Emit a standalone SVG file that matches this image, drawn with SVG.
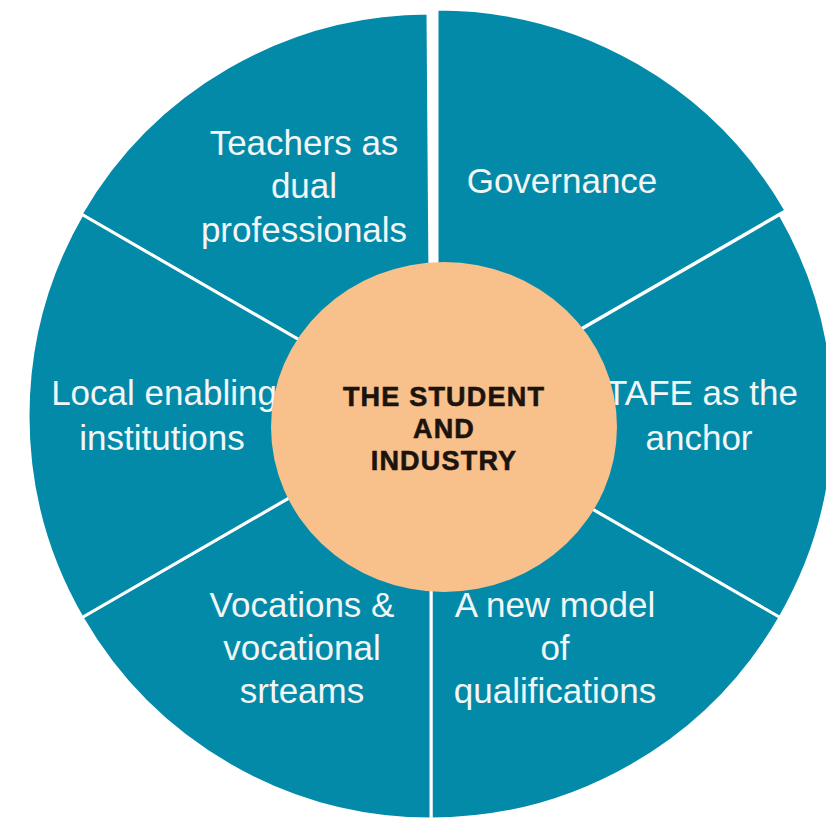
<svg xmlns="http://www.w3.org/2000/svg" width="826" height="820" viewBox="0 0 826 820">
<style>
.w{fill:#038aa9;stroke:#ffffff;stroke-width:3;stroke-linejoin:miter}
.t{font-family:"Liberation Sans",Arial,sans-serif;font-size:35px;fill:#f2f6f6;text-anchor:middle}
.c{font-family:"Liberation Sans",Arial,sans-serif;font-size:27px;font-weight:bold;fill:#1c140c;stroke:#1c140c;stroke-width:0.6px;text-anchor:middle;letter-spacing:1.2px}
</style>
<rect width="826" height="820" fill="#ffffff"/>
<g id="teachers">
<path class="w" d="M431,416 L81.1,214 A403,403 0 0 1 428,13 Z"/>
<text class="t" x="304" y="155">Teachers as</text>
<text class="t" x="304" y="198">dual</text>
<text class="t" x="304" y="242">professionals</text>
</g>
<g id="governance" transform="translate(6,-4)">
<path class="w" d="M431,416 L431,13 A403,403 0 0 1 780,214.5 Z"/>
<text class="t" x="556" y="197">Governance</text>
</g>
<g id="tafe">
<path class="w" d="M431,416 L780,214.5 A403,403 0 0 1 780,617.5 Z"/>
<text class="t" x="702" y="405">TAFE as the</text>
<text class="t" x="699" y="450">anchor</text>
</g>
<g id="qualifications">
<path class="w" d="M431,416 L780,617.5 A403,403 0 0 1 431,819 Z"/>
<text class="t" x="555" y="617">A new model</text>
<text class="t" x="555" y="660">of</text>
<text class="t" x="555" y="703">qualifications</text>
</g>
<g id="vocations">
<path class="w" d="M431,416 L431,819 A403,403 0 0 1 82,617.5 Z"/>
<text class="t" x="302" y="617">Vocations &amp;</text>
<text class="t" x="302" y="660">vocational</text>
<text class="t" x="302" y="703">srteams</text>
</g>
<g id="local">
<path class="w" d="M431,416 L82,617.5 A403,403 0 0 1 82,214.5 Z"/>
<text class="t" x="164" y="405">Local enabling</text>
<text class="t" x="162" y="450">institutions</text>
</g>
<g id="center">
<ellipse cx="444" cy="427" rx="173" ry="165" fill="#f8c08b"/>
<text class="c" x="444" y="406">THE STUDENT</text>
<text class="c" x="444" y="438">AND</text>
<text class="c" x="444" y="470">INDUSTRY</text>
</g>
</svg>
